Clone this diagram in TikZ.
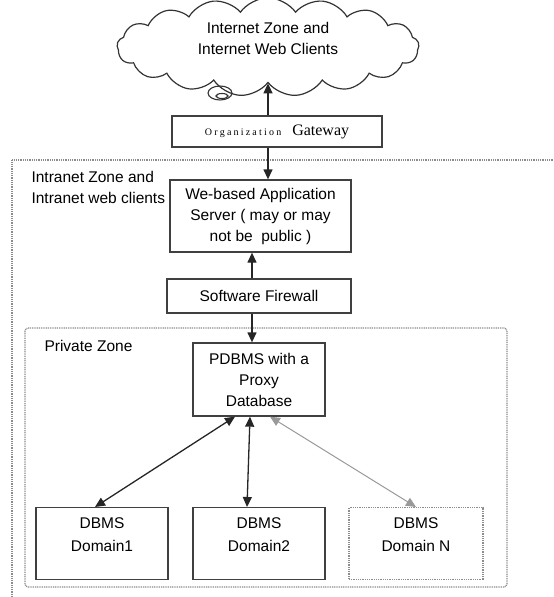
\documentclass[tikz,border=0pt]{standalone}
\usepackage{fontspec}
\setmainfont{Liberation Sans}
\newfontfamily\gwfont{Liberation Serif}
\usetikzlibrary{shapes.symbols, arrows.meta, positioning}

\tikzset{
  box/.style={draw=black!75, line width=1.3pt, align=center, inner sep=2pt},
  dbbox/.style={box, minimum width=132pt, minimum height=72pt, text depth=19pt, anchor=north},
  zone/.style={draw=black!45, line width=1.3pt, dash pattern=on 1pt off 0.8pt},
  link/.style={-{Triangle[length=10pt,width=9pt]}, line width=1.3pt, draw=black!85},
  twoway/.style={{Triangle[length=10pt,width=9pt]}-{Triangle[length=10pt,width=9pt]}, line width=1.3pt, draw=black!85},
}

\begin{document}
\begin{tikzpicture}[x=1pt, y=-1pt, font=\fontsize{15.5}{21}\selectfont]
\useasboundingbox (0,0) rectangle (554,597);

% Internet
\node[cloud, draw=black!80, line width=1.2pt, cloud puffs=17, cloud puff arc=110, aspect=4.2,
      minimum width=302pt, minimum height=72pt, inner sep=0pt, align=center, text depth=18pt] (net) at (268,47)
      {Internet Zone and\\Internet Web Clients};
\draw[black!80, line width=1.1pt] (220,93) ellipse [x radius=12pt, y radius=7pt];
\draw[black!80, line width=1.1pt] (222,96) ellipse [x radius=6pt, y radius=2.5pt];
\node[box, minimum width=210pt, minimum height=31pt] (gw) at (277,131.5)
      {\gwfont{\fontsize{10}{10}\selectfont O\kern2.2pt r\kern2.2pt g\kern2.2pt a\kern2.2pt n\kern2.2pt i\kern2.2pt z\kern2.2pt a\kern2.2pt t\kern2.2pt i\kern2.2pt o\kern2.2pt n}\hspace{11pt}{\gwfont\fontsize{16}{18}\selectfont Gateway}};
\coordinate (gwaxis) at (268,0);
\draw[link] (gw.north -| gwaxis) -- (net.south -| gwaxis);

% Intranet
\draw[zone] (12,597) -- (12,160) -- (554,160);
\node[anchor=west, align=left] (intra) at (28,187) {Intranet Zone and\\Intranet web clients};
\node[box, minimum width=181pt, minimum height=72pt] (app) at (260.5,216)
      {We-based Application\\Server ( may or may\\not be~~public )};
\draw[link] (gw.south -| gwaxis) -- (app.north -| gwaxis);
\node[box, minimum width=184pt, minimum height=34pt] (fw) at (259,296) {Software Firewall};
\coordinate (axis) at (252,0);
\draw[link] (fw.north -| axis) -- (app.south -| axis);

% Private
\draw[zone, rounded corners=3pt] (25,328) rectangle (507,587);
\node[anchor=west] (priv) at (41,346) {Private Zone};
\node[box, minimum width=132pt, minimum height=73pt] (pd) at (259,379.5)
      {PDBMS with a\\Proxy\\Database};
\draw[link] (fw.south -| axis) -- (pd.north -| axis);

\node[dbbox] (d1) at (102,507) {DBMS\\[2pt]Domain1};
\node[dbbox] (d2) at (259,507) {DBMS\\[2pt]Domain2};
\node[dbbox, draw=black!45, dash pattern=on 1pt off 0.8pt, minimum width=134pt] (dn) at (416,507)
      {DBMS\\[2pt]Domain N};

\draw[twoway] ([xshift=-24pt]pd.south) -- ([xshift=-7pt]d1.north);
\draw[twoway] ([xshift=-9pt]pd.south) -- ([xshift=-12pt]d2.north);
\draw[twoway, draw=black!40, line width=1pt] ([xshift=11pt]pd.south) -- (dn.north);
\end{tikzpicture}
\end{document}
